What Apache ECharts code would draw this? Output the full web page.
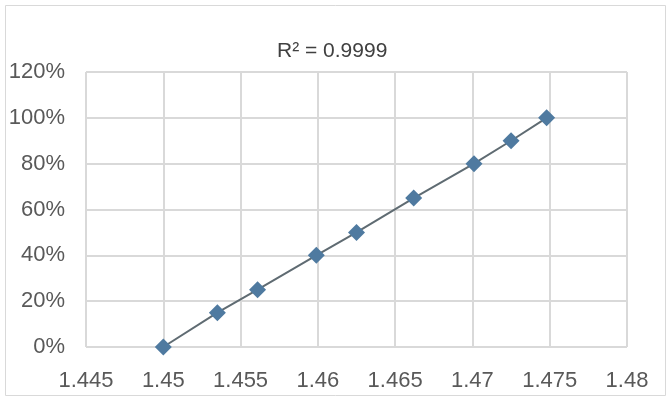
<!DOCTYPE html>
<html><head><meta charset="utf-8">
<script src="https://cdn.jsdelivr.net/npm/echarts@6/dist/echarts.min.js"></script>
<style>html,body{margin:0;padding:0;background:#fff}#c{width:672px;height:404px}</style>
</head><body><div id="c"></div>
<script>
var xValues = [1.45, 1.4535, 1.4561, 1.4599, 1.4625, 1.4662, 1.4701, 1.4725, 1.4748];
var yValues = [0, 15, 25, 40, 50, 65, 80, 90, 100];
var titleText = 'R² = 0.9999';
var xMin = 1.445, xMax = 1.48, xStep = 0.005;
var yMin = 0, yMax = 120, yStep = 20;

var chart = echarts.init(document.getElementById('c'), null, {renderer: 'canvas'});
var font = 'Liberation Sans';
chart.setOption({
  backgroundColor: '#fff',
  animation: false,
  graphic: [{type: 'rect', shape: {x: 5.5, y: 5.5, width: 660, height: 390}, style: {fill: 'none', stroke: '#d9d9d9', lineWidth: 1}, z: -1}],
  title: {text: titleText, left: 277, top: 41, padding: 0, textStyle: {fontFamily: font, fontSize: 21, fontWeight: 'normal', color: '#404040'}},
  grid: {left: 86, right: 45, top: 72, bottom: 57},
  xAxis: {type: 'value', min: xMin, max: xMax, interval: xStep,
    axisLine: {show: false}, axisTick: {show: false},
    splitLine: {show: true, lineStyle: {color: '#d9d9d9', width: 2}},
    axisLabel: {fontFamily: font, fontSize: 22, color: '#595959', margin: 23, formatter: function(v){return String(+v.toFixed(3));}}},
  yAxis: {type: 'value', min: yMin, max: yMax, interval: yStep,
    axisLine: {show: false}, axisTick: {show: false},
    splitLine: {show: true, lineStyle: {color: '#d9d9d9', width: 2}},
    axisLabel: {fontFamily: font, fontSize: 22, color: '#595959', margin: 21, formatter: '{value}%'}},
  series: [{type: 'line', data: xValues.map(function(x, i){return [x, yValues[i]];}),
    symbol: 'diamond', symbolSize: 17,
    itemStyle: {color: '#4f7aa0'},
    lineStyle: {color: '#5f6b72', width: 2}}]
});
</script></body></html>
